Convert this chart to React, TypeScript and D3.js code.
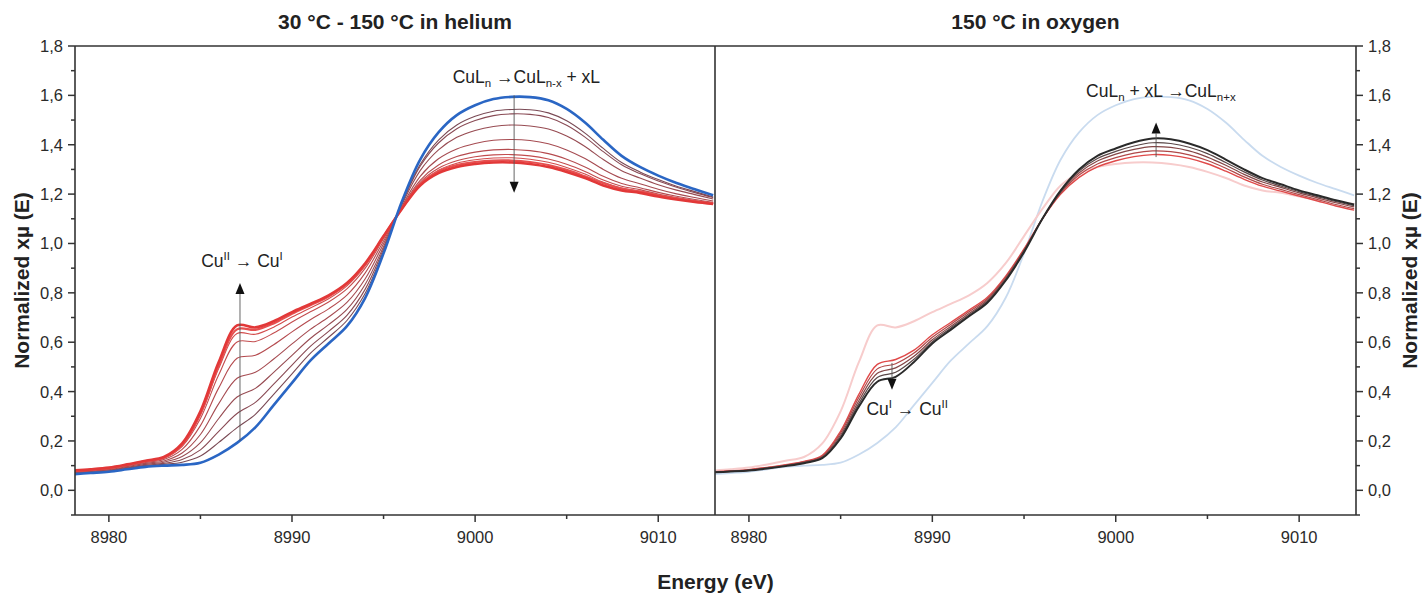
import React from 'react';
import * as d3 from 'd3';

// ---------- DATA ----------
const energy = [8978, 8979, 8980, 8981, 8982, 8983, 8984, 8985, 8986, 8987, 8988, 8989, 8990, 8991, 8992, 8993, 8994, 8995, 8996, 8997, 8998, 8999, 9000, 9001, 9002, 9003, 9004, 9005, 9006, 9007, 9008, 9009, 9010, 9011, 9012, 9013];

// Helium panel: 30 °C start (blue)
const heStart = [0.065, 0.070, 0.075, 0.085, 0.095, 0.100, 0.103, 0.112, 0.145, 0.192, 0.255, 0.345, 0.435, 0.525, 0.595, 0.665, 0.780, 0.960, 1.170, 1.340, 1.450, 1.520, 1.560, 1.585, 1.594, 1.593, 1.580, 1.545, 1.490, 1.420, 1.355, 1.310, 1.275, 1.245, 1.220, 1.195];
// intermediate temperatures (thin)
const he1 = [0.067, 0.072, 0.077, 0.088, 0.098, 0.105, 0.114, 0.139, 0.194, 0.254, 0.308, 0.389, 0.472, 0.555, 0.620, 0.688, 0.798, 0.969, 1.164, 1.320, 1.419, 1.480, 1.515, 1.536, 1.543, 1.542, 1.529, 1.497, 1.447, 1.385, 1.328, 1.290, 1.259, 1.232, 1.210, 1.188];
const he2 = [0.069, 0.074, 0.079, 0.090, 0.101, 0.109, 0.125, 0.164, 0.239, 0.311, 0.356, 0.430, 0.507, 0.583, 0.644, 0.709, 0.815, 0.978, 1.162, 1.313, 1.407, 1.465, 1.498, 1.518, 1.525, 1.523, 1.510, 1.479, 1.431, 1.372, 1.319, 1.283, 1.253, 1.228, 1.206, 1.186];
const he3 = [0.071, 0.076, 0.082, 0.093, 0.105, 0.114, 0.137, 0.193, 0.291, 0.378, 0.413, 0.478, 0.547, 0.615, 0.671, 0.733, 0.835, 0.987, 1.157, 1.295, 1.379, 1.430, 1.458, 1.474, 1.480, 1.476, 1.464, 1.435, 1.393, 1.340, 1.295, 1.265, 1.238, 1.216, 1.198, 1.180];
const he4 = [0.073, 0.078, 0.084, 0.096, 0.109, 0.119, 0.151, 0.226, 0.351, 0.454, 0.478, 0.532, 0.593, 0.652, 0.702, 0.761, 0.857, 0.999, 1.150, 1.272, 1.343, 1.383, 1.405, 1.418, 1.421, 1.417, 1.404, 1.379, 1.344, 1.300, 1.264, 1.242, 1.220, 1.201, 1.186, 1.172];
const he5 = [0.076, 0.081, 0.087, 0.099, 0.113, 0.125, 0.166, 0.262, 0.415, 0.535, 0.547, 0.590, 0.642, 0.691, 0.735, 0.791, 0.881, 1.010, 1.146, 1.256, 1.318, 1.352, 1.370, 1.379, 1.381, 1.376, 1.364, 1.341, 1.310, 1.272, 1.243, 1.226, 1.207, 1.191, 1.178, 1.167];
const he6 = [0.078, 0.083, 0.090, 0.102, 0.117, 0.130, 0.178, 0.291, 0.468, 0.601, 0.603, 0.637, 0.682, 0.723, 0.763, 0.816, 0.900, 1.020, 1.144, 1.248, 1.305, 1.335, 1.351, 1.359, 1.360, 1.355, 1.342, 1.321, 1.292, 1.257, 1.232, 1.218, 1.200, 1.186, 1.174, 1.164];
const he7 = [0.079, 0.084, 0.091, 0.104, 0.118, 0.133, 0.184, 0.305, 0.494, 0.635, 0.632, 0.661, 0.702, 0.739, 0.776, 0.828, 0.910, 1.025, 1.142, 1.242, 1.297, 1.325, 1.339, 1.346, 1.347, 1.341, 1.329, 1.308, 1.281, 1.248, 1.225, 1.212, 1.196, 1.183, 1.172, 1.162];
// 150 °C end (thick red, two overlapping scans)
const heEndA = [0.078, 0.083, 0.090, 0.103, 0.118, 0.132, 0.183, 0.310, 0.505, 0.652, 0.650, 0.676, 0.715, 0.750, 0.785, 0.836, 0.915, 1.028, 1.142, 1.240, 1.293, 1.318, 1.330, 1.336, 1.336, 1.330, 1.318, 1.298, 1.272, 1.244, 1.222, 1.210, 1.195, 1.182, 1.171, 1.163];
const heEnd = [0.080, 0.085, 0.092, 0.105, 0.120, 0.135, 0.190, 0.320, 0.520, 0.668, 0.660, 0.685, 0.722, 0.755, 0.790, 0.840, 0.920, 1.030, 1.140, 1.235, 1.285, 1.310, 1.322, 1.328, 1.328, 1.322, 1.310, 1.290, 1.265, 1.235, 1.215, 1.205, 1.190, 1.178, 1.168, 1.160];

// Oxygen panel (150 °C), first scan red -> last scan black
const ox1 = [0.075, 0.079, 0.084, 0.093, 0.104, 0.117, 0.142, 0.240, 0.390, 0.510, 0.530, 0.568, 0.630, 0.680, 0.730, 0.782, 0.868, 0.978, 1.100, 1.200, 1.268, 1.310, 1.335, 1.352, 1.360, 1.357, 1.345, 1.323, 1.293, 1.260, 1.232, 1.212, 1.192, 1.172, 1.152, 1.135];
const ox2 = [0.074, 0.078, 0.083, 0.092, 0.102, 0.115, 0.138, 0.232, 0.377, 0.492, 0.513, 0.556, 0.620, 0.672, 0.723, 0.776, 0.863, 0.975, 1.100, 1.204, 1.277, 1.322, 1.348, 1.366, 1.375, 1.372, 1.359, 1.336, 1.305, 1.270, 1.240, 1.219, 1.198, 1.178, 1.158, 1.141];
const ox3 = [0.074, 0.077, 0.082, 0.090, 0.100, 0.113, 0.135, 0.224, 0.364, 0.474, 0.496, 0.543, 0.610, 0.664, 0.716, 0.770, 0.858, 0.971, 1.100, 1.208, 1.286, 1.334, 1.362, 1.381, 1.392, 1.389, 1.375, 1.350, 1.317, 1.280, 1.249, 1.227, 1.205, 1.185, 1.165, 1.148];
const ox4 = [0.073, 0.077, 0.081, 0.089, 0.099, 0.111, 0.132, 0.217, 0.352, 0.457, 0.478, 0.531, 0.602, 0.657, 0.710, 0.765, 0.854, 0.968, 1.100, 1.211, 1.293, 1.344, 1.373, 1.395, 1.408, 1.405, 1.390, 1.364, 1.328, 1.290, 1.257, 1.233, 1.210, 1.190, 1.170, 1.153];
const ox5 = [0.073, 0.076, 0.080, 0.088, 0.098, 0.110, 0.130, 0.210, 0.340, 0.440, 0.460, 0.520, 0.595, 0.650, 0.705, 0.760, 0.850, 0.965, 1.100, 1.215, 1.300, 1.355, 1.385, 1.410, 1.425, 1.422, 1.405, 1.378, 1.340, 1.300, 1.265, 1.240, 1.215, 1.195, 1.175, 1.158];

const xTicks = [8980, 8990, 9000, 9010];
const xMinorTicks = [8985, 8995, 9005];
const yTicks = [0, 0.2, 0.4, 0.6, 0.8, 1.0, 1.2, 1.4, 1.6, 1.8];
const yMinorTicks = [-0.1, 0.1, 0.3, 0.5, 0.7, 0.9, 1.1, 1.3, 1.5, 1.7];

const titleLeft = '30 °C - 150 °C in helium';
const titleRight = '150 °C in oxygen';
const xTitle = 'Energy (eV)';
const yTitle = 'Normalized xµ (E)';

// ---------- LAYOUT ----------
const W = 1422, H = 593;
const top = 46, bottom = 515;
const leftX0 = 75, divX = 715, rightX1 = 1356;
const font = 'Liberation Sans, Arial, Helvetica, sans-serif';

const xDomain: [number, number] = [8978.15, 9013.1];
const xL = d3.scaleLinear().domain(xDomain).range([leftX0, divX]);
const xR = d3.scaleLinear().domain(xDomain).range([divX, rightX1]);
const y = d3.scaleLinear().domain([-0.1, 1.8]).range([bottom, top]);

const fmt = (v: number) => v.toFixed(1).replace('.', ',');

function pathFor(xs: d3.ScaleLinear<number, number>, vals: number[]) {
  const line = d3
    .line<number>()
    .x((_, i) => xs(energy[i]))
    .y((v) => y(v))
    .curve(d3.curveCatmullRom.alpha(0.5));
  return line(vals) || '';
}

const heIntermediate = [he1, he2, he3, he4, he5, he6, he7];
const interColor = d3.interpolateRgb('#7a4a55', '#d24c4c');

function Arrow({ x, y1, y2 }: { x: number; y1: number; y2: number }) {
  const dir = y2 > y1 ? 1 : -1;
  const hl = 11, hw = 4.5;
  return (
    <g>
      <line x1={x} x2={x} y1={y1} y2={y2 - dir * hl} stroke="#555" strokeWidth={0.9} />
      <path d={`M${x},${y2} L${x - hw},${y2 - dir * hl} L${x + hw},${y2 - dir * hl} Z`} fill="#111" />
    </g>
  );
}

function Axes({ xs, side }: { xs: d3.ScaleLinear<number, number>; side: 'left' | 'right' }) {
  const axisX = side === 'left' ? leftX0 : rightX1;
  const dir = side === 'left' ? -1 : 1;
  return (
    <g fontFamily={font} fill="#2a2a2a">
      {xTicks.map((t) => (
        <g key={'xt' + t}>
          <line x1={xs(t)} x2={xs(t)} y1={bottom} y2={bottom + 7} stroke="#333" strokeWidth={1.5} />
          <text x={xs(t)} y={bottom + 28} fontSize={16.5} textAnchor="middle">{t}</text>
        </g>
      ))}
      {xMinorTicks.map((t) => (
        <line key={'xm' + t} x1={xs(t)} x2={xs(t)} y1={bottom} y2={bottom + 4} stroke="#333" strokeWidth={1.5} />
      ))}
      {yTicks.map((t) => (
        <g key={'yt' + t}>
          <line x1={axisX} x2={axisX + dir * 7} y1={y(t)} y2={y(t)} stroke="#333" strokeWidth={1.5} />
          <text
            x={axisX + dir * 12}
            y={y(t) + 6}
            fontSize={16.5}
            textAnchor={side === 'left' ? 'end' : 'start'}
          >
            {fmt(t)}
          </text>
        </g>
      ))}
      {yMinorTicks.map((t) => (
        <line key={'ym' + t} x1={axisX} x2={axisX + dir * 4} y1={y(t)} y2={y(t)} stroke="#333" strokeWidth={1.5} />
      ))}
    </g>
  );
}

export default function App() {
  const subFs = 11.5;
  const annFs = 17.5;
  return (
    <svg
      width={W}
      height={H}
      viewBox={`0 0 ${W} ${H}`}
      style={{ position: 'absolute', left: 0, top: 0, display: 'block', background: '#fff' }}
    >
      <defs>
        <clipPath id="clipL">
          <rect x={leftX0} y={top} width={divX - leftX0} height={bottom - top} />
        </clipPath>
        <clipPath id="clipR">
          <rect x={divX} y={top} width={rightX1 - divX} height={bottom - top} />
        </clipPath>
      </defs>
      <rect x={0} y={0} width={W} height={H} fill="#fff" />

      {/* titles */}
      <text x={(leftX0 + divX) / 2} y={29} fontFamily={font} fontWeight="bold" fontSize={21} textAnchor="middle" fill="#222">
        {titleLeft}
      </text>
      <text x={(divX + rightX1) / 2} y={29} fontFamily={font} fontWeight="bold" fontSize={21} textAnchor="middle" fill="#222">
        {titleRight}
      </text>

      {/* left panel curves */}
      <g clipPath="url(#clipL)" fill="none" strokeLinejoin="round">
        {heIntermediate.map((c, i) => (
          <path key={'hi' + i} d={pathFor(xL, c)} stroke={interColor(i / (heIntermediate.length - 1))} strokeWidth={1.1} />
        ))}
        <path d={pathFor(xL, heEndA)} stroke="#e65050" strokeWidth={2.2} />
        <path d={pathFor(xL, heEnd)} stroke="#e23838" strokeWidth={2.6} />
        <path d={pathFor(xL, heStart)} stroke="#2a66c4" strokeWidth={2.6} />
      </g>

      {/* right panel curves */}
      <g clipPath="url(#clipR)" fill="none" strokeLinejoin="round">
        <path d={pathFor(xR, heStart)} stroke="#c9dbef" strokeWidth={1.8} />
        <path d={pathFor(xR, heEnd)} stroke="#f7cccc" strokeWidth={2} />
        <path d={pathFor(xR, ox1)} stroke="#e04a4a" strokeWidth={1.4} />
        <path d={pathFor(xR, ox2)} stroke="#b04848" strokeWidth={1.2} />
        <path d={pathFor(xR, ox3)} stroke="#844646" strokeWidth={1.2} />
        <path d={pathFor(xR, ox4)} stroke="#5a4848" strokeWidth={1.2} />
        <path d={pathFor(xR, ox5)} stroke="#2a2a2a" strokeWidth={2} />
      </g>

      {/* frame */}
      <g stroke="#333" strokeWidth={1.6} fill="none">
        <line x1={leftX0} x2={rightX1} y1={top} y2={top} />
        <line x1={leftX0} x2={rightX1} y1={bottom} y2={bottom} />
        <line x1={leftX0} x2={leftX0} y1={top} y2={bottom} />
        <line x1={divX} x2={divX} y1={top} y2={bottom} />
        <line x1={rightX1} x2={rightX1} y1={top} y2={bottom} />
      </g>

      <Axes xs={xL} side="left" />
      <Axes xs={xR} side="right" />

      {/* annotations left */}
      <Arrow x={xL(9002.13)} y1={y(1.6)} y2={y(1.205)} />
      <Arrow x={xL(8987.16)} y1={y(0.2)} y2={y(0.84)} />
      <text x={xL(9002.8)} y={y(1.65)} fontFamily={font} fontSize={annFs} textAnchor="middle" fill="#222">
        CuL<tspan fontSize={subFs} dy={4}>n</tspan>
        <tspan dy={-4}> →CuL</tspan>
        <tspan fontSize={subFs} dy={4}>n-x</tspan>
        <tspan dy={-4}> + xL</tspan>
      </text>
      <text x={xL(8987.27)} y={y(0.905)} fontFamily={font} fontSize={annFs} textAnchor="middle" fill="#222">
        Cu<tspan fontSize={subFs} dy={-7}>II</tspan>
        <tspan dy={7}> → Cu</tspan>
        <tspan fontSize={subFs} dy={-7}>I</tspan>
      </text>

      {/* annotations right */}
      <Arrow x={xR(9002.2)} y1={y(1.35)} y2={y(1.49)} />
      <Arrow x={xR(8987.8)} y1={y(0.516)} y2={y(0.407)} />
      <text x={xR(9002.46)} y={y(1.594)} fontFamily={font} fontSize={annFs} textAnchor="middle" fill="#222">
        CuL<tspan fontSize={subFs} dy={4}>n</tspan>
        <tspan dy={-4}> + xL →CuL</tspan>
        <tspan fontSize={subFs} dy={4}>n+x</tspan>
      </text>
      <text x={xR(8988.63)} y={y(0.305)} fontFamily={font} fontSize={annFs} textAnchor="middle" fill="#222">
        Cu<tspan fontSize={subFs} dy={-7}>I</tspan>
        <tspan dy={7}> → Cu</tspan>
        <tspan fontSize={subFs} dy={-7}>II</tspan>
      </text>

      {/* axis titles */}
      <text x={(leftX0 + rightX1) / 2} y={589} fontFamily={font} fontWeight="bold" fontSize={21} textAnchor="middle" fill="#222">
        {xTitle}
      </text>
      <text
        transform={`translate(29,${(top + bottom) / 2}) rotate(-90)`}
        fontFamily={font}
        fontWeight="bold"
        fontSize={21}
        textAnchor="middle"
        fill="#222"
      >
        {yTitle}
      </text>
      <text
        transform={`translate(1417,${(top + bottom) / 2}) rotate(-90)`}
        fontFamily={font}
        fontWeight="bold"
        fontSize={21}
        textAnchor="middle"
        fill="#222"
      >
        {yTitle}
      </text>
    </svg>
  );
}
